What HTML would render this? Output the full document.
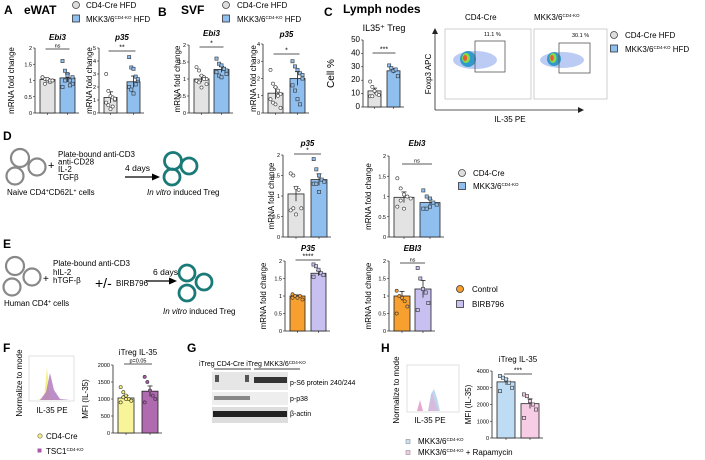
<!DOCTYPE html>
<html><head><meta charset="utf-8">
<style>
html,body{margin:0;padding:0;background:#fff;}
svg{display:block;font-family:"Liberation Sans",sans-serif;}
.pl{font-weight:bold;font-size:12px;}
.t{font-size:8px;}
.tk{font-size:5.5px;}
</style></head>
<body>
<svg id="fig" width="705" height="460" viewBox="0 0 705 460">
<text class="pl" x="4" y="14">A</text>
<text class="pl" x="24" y="14">eWAT</text>
<text class="pl" x="158" y="16">B</text>
<text class="pl" x="181" y="14">SVF</text>
<text class="pl" x="324" y="16">C</text>
<text class="pl" x="343" y="13">Lymph nodes</text>
<text class="pl" x="3" y="140">D</text>
<text class="pl" x="3" y="248">E</text>
<text class="pl" x="3" y="352">F</text>
<text class="pl" x="187" y="352">G</text>
<text class="pl" x="381" y="352">H</text>

<g>
<circle cx="76" cy="5" r="3.5" fill="#ddd" stroke="#444" stroke-width="0.8"/>
<text class="t" x="86" y="8" font-size="8.5">CD4-Cre HFD</text>
<rect x="72.5" y="15" width="7" height="7" fill="#8fbfef" stroke="#333" stroke-width="0.8"/>
<text class="t" x="86" y="22" font-size="8.5">MKK3/6<tspan font-size="4.5" dy="-3">CD4-KO</tspan><tspan dy="3"> HFD</tspan></text>
<circle cx="226" cy="5" r="3.5" fill="#ddd" stroke="#444" stroke-width="0.8"/>
<text class="t" x="237" y="8" font-size="8.5">CD4-Cre HFD</text>
<rect x="222.5" y="15" width="7" height="7" fill="#8fbfef" stroke="#333" stroke-width="0.8"/>
<text class="t" x="237" y="22" font-size="8.5">MKK3/6<tspan font-size="4.5" dy="-3">CD4-KO</tspan><tspan dy="3"> HFD</tspan></text>
</g>

<g>
<text class="t" x="465" y="20">CD4-Cre</text>
<text class="t" x="534" y="20">MKK3/6<tspan font-size="4.5" dy="-3">CD4-KO</tspan></text>
<rect x="445" y="29" width="86" height="70" fill="none" stroke="#bbb" stroke-width="0.7"/>
<rect x="534" y="29" width="73" height="70" fill="none" stroke="#bbb" stroke-width="0.7"/>
<ellipse cx="475" cy="60" rx="22" ry="9" fill="#9fb5ee" opacity="0.7"/>
<ellipse cx="468" cy="59" rx="8" ry="8" fill="#39c"/>
<ellipse cx="466" cy="58" rx="4" ry="5" fill="#8d4"/>
<ellipse cx="465" cy="58" rx="2" ry="3" fill="#e53"/>
<ellipse cx="562" cy="60" rx="22" ry="8" fill="#9fb5ee" opacity="0.7"/>
<ellipse cx="554" cy="59" rx="7" ry="7" fill="#39c"/>
<ellipse cx="553" cy="58" rx="3.5" ry="5" fill="#8d4"/>
<ellipse cx="552" cy="58" rx="1.7" ry="3" fill="#e53"/>
<rect x="475" y="41" width="30" height="31" fill="none" stroke="#555" stroke-width="0.8"/>
<rect x="559" y="43" width="31" height="30" fill="none" stroke="#555" stroke-width="0.8"/>
<text class="tk" x="484" y="36" font-size="6">11.1 %</text>
<text class="tk" x="572" y="37" font-size="6">30.1 %</text>
<line x1="435" y1="110" x2="580" y2="110" stroke="#222" stroke-width="0.8"/>
<line x1="435" y1="110" x2="435" y2="32" stroke="#222" stroke-width="0.8"/>
<path d="M432,34 L435,28 L438,34Z M578,107 L584,110 L578,113Z" fill="#222"/>
<text class="t" x="431" y="74" transform="rotate(-90 431 74)" text-anchor="middle">Foxp3 APC</text>
<text class="t" x="510" y="122" text-anchor="middle">IL-35 PE</text>
<circle cx="614" cy="35" r="3.5" fill="#ddd" stroke="#444" stroke-width="0.8"/>
<text class="t" x="625" y="38">CD4-Cre HFD</text>
<rect x="610.5" y="45" width="7" height="7" fill="#8fbfef" stroke="#333" stroke-width="0.8"/>
<text class="t" x="625" y="52">MKK3/6<tspan font-size="4.5" dy="-3">CD4-KO</tspan><tspan dy="3"> HFD</tspan></text>
</g>

<g fill="none">
<circle cx="20" cy="158" r="9" stroke="#888" stroke-width="2.2"/>
<circle cx="37" cy="167" r="8.5" stroke="#888" stroke-width="2.2"/>
<circle cx="15" cy="176" r="8.5" stroke="#888" stroke-width="2.2"/>
<circle cx="173" cy="161" r="8.5" stroke="#1a7a78" stroke-width="2.8"/>
<circle cx="189" cy="166" r="8" stroke="#1a7a78" stroke-width="2.8"/>
<circle cx="172" cy="177" r="8" stroke="#1a7a78" stroke-width="2.8"/>
<line x1="125" y1="177" x2="153" y2="177" stroke="#000" stroke-width="1.2"/>
<path d="M152,173.5 L160,177 L152,180.5Z" fill="#000"/>
</g>
<g font-size="8">
<text x="48" y="169" font-size="11">+</text>
<text x="58" y="157">Plate-bound anti-CD3</text>
<text x="58" y="164.5">anti-CD28</text>
<text x="58" y="172">IL-2</text>
<text x="58" y="180">TGFβ</text>
<text x="125" y="171" font-size="8.5">4 days</text>
<text x="7" y="195">Naive CD4<tspan font-size="5" dy="-2.5">+</tspan><tspan dy="2.5">CD62L</tspan><tspan font-size="5" dy="-2.5">+</tspan><tspan dy="2.5"> cells</tspan></text>
<text x="147" y="195"><tspan font-style="italic">In vitro</tspan> induced Treg</text>
</g>
<g fill="none">
<circle cx="15" cy="266" r="9" stroke="#888" stroke-width="2.2"/>
<circle cx="32" cy="277" r="8.5" stroke="#888" stroke-width="2.2"/>
<circle cx="12" cy="287" r="8.5" stroke="#888" stroke-width="2.2"/>
<circle cx="187" cy="273" r="8" stroke="#1a7a78" stroke-width="2.8"/>
<circle cx="204" cy="282" r="8" stroke="#1a7a78" stroke-width="2.8"/>
<circle cx="187" cy="293" r="8" stroke="#1a7a78" stroke-width="2.8"/>
<line x1="146" y1="281" x2="170" y2="281" stroke="#000" stroke-width="1.2"/>
<path d="M169,277.5 L177,281 L169,284.5Z" fill="#000"/>
</g>
<g font-size="8">
<text x="43" y="282" font-size="10">+</text>
<text x="53" y="266">Plate-bound anti-CD3</text>
<text x="53" y="275">hIL-2</text>
<text x="53" y="283">hTGF-β</text>
<text x="95" y="288" font-size="14">+/-</text>
<text x="116" y="286">BIRB796</text>
<text x="153" y="275" font-size="8.5">6 days</text>
<text x="4" y="306">Human CD4<tspan font-size="5" dy="-2.5">+</tspan><tspan dy="2.5"> cells</tspan></text>
<text x="163" y="314"><tspan font-style="italic">In vitro</tspan> induced Treg</text>
</g>

<g>
<circle cx="462" cy="173" r="3.5" fill="#ddd" stroke="#444" stroke-width="0.8"/>
<text class="t" x="473" y="176">CD4-Cre</text>
<rect x="458.5" y="182.5" width="7" height="7" fill="#8fbfef" stroke="#333" stroke-width="0.8"/>
<text class="t" x="473" y="189">MKK3/6<tspan font-size="4.5" dy="-3">CD4-KO</tspan></text>
</g>
<g>
<circle cx="460" cy="289" r="3.5" fill="#f7a030" stroke="#333" stroke-width="0.8"/>
<text class="t" x="472" y="292">Control</text>
<rect x="456.5" y="300.5" width="7" height="7" fill="#c8c0f0" stroke="#333" stroke-width="0.8"/>
<text class="t" x="472" y="307">BIRB796</text>
</g>

<g>
<rect x="29" y="356" width="45" height="45" fill="none" stroke="#ccc" stroke-width="0.6"/>
<path d="M37,400 L44,398 L47,367 L50,398 L57,400Z" fill="#f6ef7a" opacity="0.9"/>
<path d="M40,400 L46,392 L50,373 L54,390 L60,399 L70,400Z" fill="#b27bc0" opacity="0.85"/>
<text class="t" x="22" y="383" transform="rotate(-90 22 383)" text-anchor="middle">Normalize to mode</text>
<text class="t" x="52" y="413" text-anchor="middle">IL-35 PE</text>
<circle cx="40" cy="436" r="2.2" fill="#f6ef7a" stroke="#666" stroke-width="0.6"/>
<text class="t" x="46" y="439">CD4-Cre</text>
<rect x="37.5" y="448.5" width="4" height="4" fill="#a85aa8"/>
<text class="t" x="46" y="454">TSC1<tspan font-size="4.5" dy="-3">CD4-KO</tspan></text>
</g>
<g>
<text x="199" y="366" font-size="7">iTreg CD4-Cre  iTreg MKK3/6<tspan font-size="4.5" dy="-2">CD4-KO</tspan></text>
<line x1="214" y1="369" x2="251" y2="369" stroke="#000" stroke-width="0.8"/>
<line x1="254" y1="369" x2="300" y2="369" stroke="#000" stroke-width="0.8"/>
<rect x="212" y="372" width="76" height="18" fill="#e6e6e6"/>
<rect x="254" y="377" width="33" height="6" fill="#333"/>
<rect x="215" y="375" width="4" height="7" fill="#555"/>
<rect x="245" y="375" width="4" height="7" fill="#555"/>
<rect x="212" y="392" width="76" height="13" fill="#eee"/>
<rect x="214" y="396" width="36" height="4" fill="#888"/>
<rect x="212" y="407" width="76" height="16" fill="#ddd"/>
<rect x="213" y="411" width="74" height="6" fill="#222"/>
<text x="290" y="385" font-size="7">p-S6 protein 240/244</text>
<text x="290" y="401" font-size="7">p-p38</text>
<text x="290" y="416" font-size="7">β-actin</text>
</g>
<g>
<rect x="407" y="365" width="52" height="47" fill="none" stroke="#ccc" stroke-width="0.6"/>
<path d="M417,411 L420,400 L423,411Z" fill="#e7a8d0"/>
<path d="M428,411 L431,394 L434,389 L437,398 L440,411Z" fill="#b5d2ee" opacity="0.9"/>
<path d="M428,411 L432,393 L435,402 L438,411Z" fill="#e7a8d0" opacity="0.6"/>
<text class="t" x="399" y="390" transform="rotate(-90 399 390)" text-anchor="middle">Normalize to mode</text>
<text class="t" x="430" y="423" text-anchor="middle">IL-35 PE</text>
<rect x="406" y="439.5" width="4" height="4" fill="#cfe3f5" stroke="#777" stroke-width="0.5"/>
<text class="t" x="418" y="444">MKK3/6<tspan font-size="4.5" dy="-3">CD4-KO</tspan></text>
<rect x="406" y="450.5" width="4" height="4" fill="#f5d0e5" stroke="#777" stroke-width="0.5"/>
<text class="t" x="418" y="455">MKK3/6<tspan font-size="4.5" dy="-3">CD4-KO</tspan><tspan dy="3"> + Rapamycin</tspan></text>
</g>
<g id="charts"></g>
</svg>
<script>
const groups = ["control", "treatment"];
const aEbi3Means = [1.03, 1.08];
const aEbi3Ctrl = [1.1,1.05,1.0,0.95,1.0,1.1,0.9,1.05,1.0,1.0];
const aEbi3Ko = [1.6,1.3,1.2,1.0,0.9,0.8,1.0,1.15,0.85,1.1];
const aEbi3Ticks = [0,0.5,1.0,1.5,2.0];
const aP35Means = [1.2, 2.4];
const aP35Ctrl = [3.0,1.7,1.3,1.2,1.0,0.8,0.6,0.3,0.5,1.1];
const aP35Ko = [4.3,3.5,3.4,2.8,2.5,2.0,1.8,1.5,2.2,2.6];
const aP35Ticks = [0,1,2,3,4,5];
const bEbi3Means = [1.0, 1.28];
const bEbi3Ctrl = [1.35,1.25,1.1,1.05,1.0,0.95,0.9,0.75,1.0,0.85];
const bEbi3Ko = [1.6,1.45,1.4,1.3,1.25,1.2,1.1,1.05,1.3,1.15];
const bEbi3Ticks = [0,0.5,1.0,1.5,2.0];
const bP35Means = [1.15, 2.0];
const bP35Ctrl = [2.5,1.7,1.5,1.3,1.1,0.8,0.6,0.5,1.0,0.3];
const bP35Ko = [3.0,2.7,2.5,2.3,2.0,1.6,1.3,0.8,0.5,2.2];
const bP35Ticks = [0,1,2,3,4];
const cMeans = [12, 27];
const cCtrl = [19,15,12,10,9,8,8];
const cKo = [31,29,27,28,23];
const cTicks = [0,10,20,30,40,50];
const dP35Means = [1.05, 1.4];
const dP35Ctrl = [1.55,1.5,1.2,1.15,0.7,0.65,0.7,0.55];
const dP35Ko = [1.9,1.65,1.5,1.4,1.35,1.3,1.3,1.1];
const dEbi3Means = [0.98, 0.85];
const dEbi3Ctrl = [1.45,1.2,1.05,1.0,0.95,0.75,0.9,0.7];
const dEbi3Ko = [1.15,1.0,0.95,0.85,0.8,0.7,0.7,0.75];
const dTicks = [0,0.5,1.0,1.5,2.0];
const eP35Means = [1.0, 1.65];
const eP35Ctrl = [1.05,1.0,0.95,1.0,0.9,0.95];
const eP35Ko = [1.9,1.85,1.75,1.65,1.6,1.55];
const eEbi3Means = [1.0, 1.2];
const eEbi3Ctrl = [1.15,1.0,0.95,0.85,0.7,0.5];
const eEbi3Ko = [1.8,1.5,1.2,1.1,0.8,0.6];
const eTicks = [0,0.5,1.0,1.5,2.0];
const fMeans = [1030, 1230];
const fCtrl = [1350,1200,1100,1000,950,900,1050,1000];
const fKo = [1650,1500,1250,1100,1000,900];
const fTicks = [0,500,1000,1500,2000];
const hMeans = [3350, 2050];
const hCtrl = [3700,3600,3500,3300,3000,2800];
const hKo = [2600,2500,2200,2000,1700,1200];
const hTicks = [0,1000,2000,3000,4000];

const NS = "http://www.w3.org/2000/svg";
const root = document.getElementById("charts");
function mk(tag, attrs, parent) {
  const e = document.createElementNS(NS, tag);
  for (const k in attrs) e.setAttribute(k, attrs[k]);
  parent.appendChild(e);
  return e;
}
function txt(s, attrs, parent) { const e = mk("text", attrs, parent); e.textContent = s; return e; }

function chart(c) {
  const g = mk("g", {}, root);
  
  
  const max = c.ticks[c.ticks.length - 1];
  const y = v => c.y0 - (v / max) * (c.y0 - c.yTop);
  const bx = i => c.x + 5 + i * (c.bw + c.gap);
  mk("line", {x1: c.x, y1: c.yTop, x2: c.x, y2: c.y0, stroke: "#222", "stroke-width": 0.8}, g);
  c.ticks.forEach(t => {
    mk("line", {x1: c.x - 2, y1: y(t), x2: c.x, y2: y(t), stroke: "#222", "stroke-width": 0.6}, g);
    const lab = txt(String(t), {x: c.x - 3, y: y(t) + 2, "text-anchor": "end", "font-size": c.tickFs || 5.5}, g);
    
    
  });
  const end = bx(1) + c.bw + 4;
  mk("line", {x1: c.x, y1: c.y0, x2: end, y2: c.y0, stroke: "#222", "stroke-width": 0.8}, g);
  const pts = [c.ctrl, c.ko];
  c.means.forEach((m, i) => {
    const r = mk("rect", {x: bx(i), y: y(m), width: c.bw, height: c.y0 - y(m), fill: c.colors[i], stroke: "#222", "stroke-width": 0.8}, g);
    
    
    const cx = bx(i) + c.bw / 2;
    mk("line", {x1: cx, y1: c.y0, x2: cx, y2: c.y0 + 2, stroke: "#222", "stroke-width": 0.6}, g);
    const sd = Math.max(...pts[i]) - Math.min(...pts[i]);
    const se = sd / 2 / Math.sqrt(pts[i].length);
    mk("line", {x1: cx, y1: y(m - se), x2: cx, y2: y(m + se), stroke: "#222", "stroke-width": 0.8}, g);
    mk("line", {x1: cx - 2.5, y1: y(m + se), x2: cx + 2.5, y2: y(m + se), stroke: "#222", "stroke-width": 0.8}, g);
    pts[i].forEach((v, j) => {
      const px = cx + ((j % 5) - 2) * (c.bw / 6);
      let p;
      if (c.shapes[i] === "c") p = mk("circle", {cx: px, cy: y(v), r: 1.6, fill: c.ptFill[i], stroke: "#333", "stroke-width": 0.6}, g);
      else p = mk("rect", {x: px - 1.6, y: y(v) - 1.6, width: 3.2, height: 3.2, fill: c.ptFill[i], stroke: "#333", "stroke-width": 0.6}, g);
      
      
    });
  });
  if (c.title) {
    const t = txt(c.title, {x: (bx(0) + bx(1) + c.bw) / 2, y: c.titleY, "text-anchor": "middle", "font-size": c.titleFs || 8, "font-weight": c.titleBold === false ? "normal" : "bold", "font-style": c.titleBold === false ? "normal" : "italic"}, g);
    
    
  }
  const s1 = bx(0) + c.bw / 2, s2 = bx(1) + c.bw / 2;
  mk("line", {x1: s1 - 2, y1: c.sigY, x2: s2 + 2, y2: c.sigY, stroke: "#222", "stroke-width": 0.8}, g);
  const sg = txt(c.sig, {x: (s1 + s2) / 2, y: c.sigY - 1.5, "text-anchor": "middle", "font-size": c.sig === "ns" || c.sig.startsWith("p") ? 5.5 : 7}, g);
  
  
  const ya = txt(c.yLabel, {x: c.yLabX, y: (c.yTop + c.y0) / 2, "text-anchor": "middle", "font-size": c.yFs || 8, transform: `rotate(-90 ${c.yLabX} ${(c.yTop + c.y0) / 2})`}, g);
  
  
}
const GB = ["#e3e3e3", "#8fbfef"];
const mrna = "mRNA fold change";
chart({name:"a-ebi3-chart", x:35, y0:113, yTop:48, bw:15, gap:5, ticks:aEbi3Ticks, means:aEbi3Means, ctrl:aEbi3Ctrl, ko:aEbi3Ko, colors:GB, ptFill:["#fff","#8fbfef"], shapes:["c","s"], title:"Ebi3", titleY:40, sig:"ns", sigY:49, yLabel:mrna, yLabX:14});
chart({name:"a-p35-chart", x:99, y0:113, yTop:48, bw:13, gap:10, ticks:aP35Ticks, means:aP35Means, ctrl:aP35Ctrl, ko:aP35Ko, colors:GB, ptFill:["#fff","#8fbfef"], shapes:["c","s"], title:"p35", titleY:40, sig:"**", sigY:51, yLabel:mrna, yLabX:92});
chart({name:"b-ebi3-chart", x:189, y0:113, yTop:45, bw:15, gap:5, ticks:bEbi3Ticks, means:bEbi3Means, ctrl:bEbi3Ctrl, ko:bEbi3Ko, colors:GB, ptFill:["#fff","#8fbfef"], shapes:["c","s"], title:"Ebi3", titleY:36, sig:"*", sigY:47, yLabel:mrna, yLabX:180});
chart({name:"b-p35-chart", x:263, y0:113, yTop:44, bw:15, gap:7, ticks:bP35Ticks, means:bP35Means, ctrl:bP35Ctrl, ko:bP35Ko, colors:GB, ptFill:["#fff","#8fbfef"], shapes:["c","s"], title:"p35", titleY:37, sig:"*", sigY:54, yLabel:mrna, yLabX:256});
chart({name:"c-il35-treg-chart", x:363, y0:107, yTop:40, bw:13, gap:6, ticks:cTicks, tickFs:8, means:cMeans, ctrl:cCtrl, ko:cKo, colors:GB, ptFill:["#fff","#8fbfef"], shapes:["c","s"], title:"IL35⁺ Treg", titleBold:false, titleFs:9, titleY:31, sig:"***", sigY:53, yLabel:"Cell %", yFs:10, yLabX:334});
chart({name:"d-p35-chart", x:283, y0:237, yTop:155, bw:16, gap:7, ticks:dTicks, means:dP35Means, ctrl:dP35Ctrl, ko:dP35Ko, colors:GB, ptFill:["#fff","#8fbfef"], shapes:["c","s"], title:"p35", titleY:146, sig:"*", sigY:154, yLabel:mrna, yLabX:274});
chart({name:"d-ebi3-chart", x:389, y0:237, yTop:156, bw:20, gap:6, ticks:dTicks, means:dEbi3Means, ctrl:dEbi3Ctrl, ko:dEbi3Ko, colors:GB, ptFill:["#fff","#8fbfef"], shapes:["c","s"], title:"Ebi3", titleY:146, sig:"ns", sigY:164, yLabel:mrna, yLabX:371});
chart({name:"e-p35-chart", x:285, y0:331, yTop:261, bw:15, gap:6, ticks:eTicks, means:eP35Means, ctrl:eP35Ctrl, ko:eP35Ko, colors:["#f7a030","#c8c0f0"], ptFill:["#f7a030","#c8c0f0"], shapes:["c","s"], title:"P35", titleY:251, sig:"****", sigY:260, yLabel:mrna, yLabX:266});
chart({name:"e-ebi3-chart", x:389, y0:331, yTop:261, bw:16, gap:5, ticks:eTicks, means:eEbi3Means, ctrl:eEbi3Ctrl, ko:eEbi3Ko, colors:["#f7a030","#c8c0f0"], ptFill:["#f7a030","#c8c0f0"], shapes:["c","s"], title:"EBI3", titleY:251, sig:"ns", sigY:263, yLabel:mrna, yLabX:371});
chart({name:"f-itreg-il35-chart", x:113, y0:433, yTop:365, bw:16, gap:8, ticks:fTicks, means:fMeans, ctrl:fCtrl, ko:fKo, colors:["#f8f49a","#b06ab0"], ptFill:["#f6ef7a","#a85aa8"], shapes:["c","c"], title:"iTreg IL-35", titleBold:false, titleFs:8, titleY:355, sig:"p=0.05", sigY:364, yLabel:"MFI (IL-35)", yLabX:88});
chart({name:"h-itreg-il35-chart", x:492, y0:438, yTop:371, bw:18, gap:6, ticks:hTicks, means:hMeans, ctrl:hCtrl, ko:hKo, colors:["#bfdcf5","#f6cde5"], ptFill:["#bfdcf5","#f6cde5"], shapes:["s","s"], title:"iTreg IL-35", titleBold:false, titleFs:8, titleY:362, sig:"***", sigY:374, yLabel:"MFI (IL-35)", yLabX:471});
</script>
</body></html>
